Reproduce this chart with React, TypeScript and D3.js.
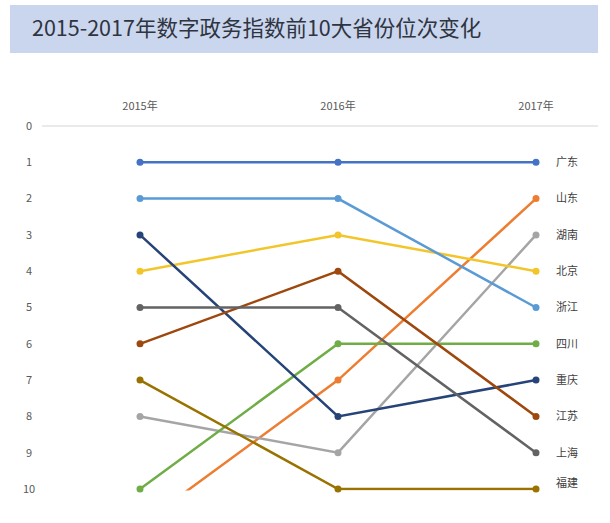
import React from "react";
import * as d3 from "d3";

const years = ["2015年", "2016年", "2017年"];
const provinces = ["广东", "山东", "湖南", "北京", "浙江", "四川", "重庆", "江苏", "上海", "福建"];
const rank2015 = [1, 11, 8, 4, 2, 10, 3, 6, 5, 7];
const rank2016 = [1, 7, 9, 3, 2, 6, 8, 4, 5, 10];
const rank2017 = [1, 2, 3, 4, 5, 6, 7, 8, 9, 10];
const colors = ["#4472c4", "#ed7d31", "#a5a5a5", "#f2c62b", "#5b9bd5", "#70ad47", "#264478", "#9e480e", "#636363", "#997300"];
const yTicks = [0, 1, 2, 3, 4, 5, 6, 7, 8, 9, 10];
const title = "2015-2017年数字政务指数前10大省份位次变化";

export default function App() {
  const W = 610, H = 523;
  const x = d3.scalePoint<string>().domain(years).range([140, 536]);
  const y = d3.scaleLinear().domain([0, 10]).range([126, 489]);
  const line = d3.line<[string, number]>().x(d => x(d[0])!).y(d => y(d[1]));
  const font = "'Noto Sans CJK SC', 'Noto Sans', sans-serif";
  const series = provinces.map((p, i) => ({
    name: p,
    color: colors[i],
    pts: [[years[0], rank2015[i]], [years[1], rank2016[i]], [years[2], rank2017[i]]] as [string, number][],
  }));
  return (
    <div style={{ position: "fixed", left: 0, top: 0 }}>
      <svg width={W} height={H} style={{ display: "block", background: "#fff" }} fontFamily={font}>
        <defs>
          <clipPath id="plot">
            <rect x={0} y={y(0) - 2} width={W} height={y(10) - y(0) + 3.5} />
          </clipPath>
        </defs>
        <rect x={10} y={5} width={588} height={48} fill="#cad6ee" />
        <text x={32} y={36} fontSize={21.5} fill="#2f3441">{title}</text>
        <line x1={42} x2={598} y1={y(0)} y2={y(0)} stroke="#e3e3e3" strokeWidth={1.5} />
        {yTicks.map(t => (
          <text key={t} x={29} y={y(t)} dy="0.35em" textAnchor="middle" fontSize={11} fill="#595959">{t}</text>
        ))}
        {years.map(yr => (
          <text key={yr} x={x(yr)!} y={106} dy="0.35em" textAnchor="middle" fontSize={11} fill="#595959">{yr}</text>
        ))}
        <g clipPath="url(#plot)">
          {series.map(s => (
            <path key={s.name} d={line(s.pts)!} fill="none" stroke={s.color} strokeWidth={2.5} />
          ))}
        </g>
        {series.map(s => s.pts.filter(d => d[1] <= 10).map((d, j) => (
          <circle key={s.name + j} cx={x(d[0])!} cy={y(d[1])} r={3.5} fill={s.color} />
        )))}
        {series.map((s, i) => (
          <text key={s.name} x={556} y={y(rank2017[i]) - (i === 9 ? 6 : 0)} dy="0.35em" fontSize={11} fill="#404040">{s.name}</text>
        ))}
      </svg>
    </div>
  );
}
